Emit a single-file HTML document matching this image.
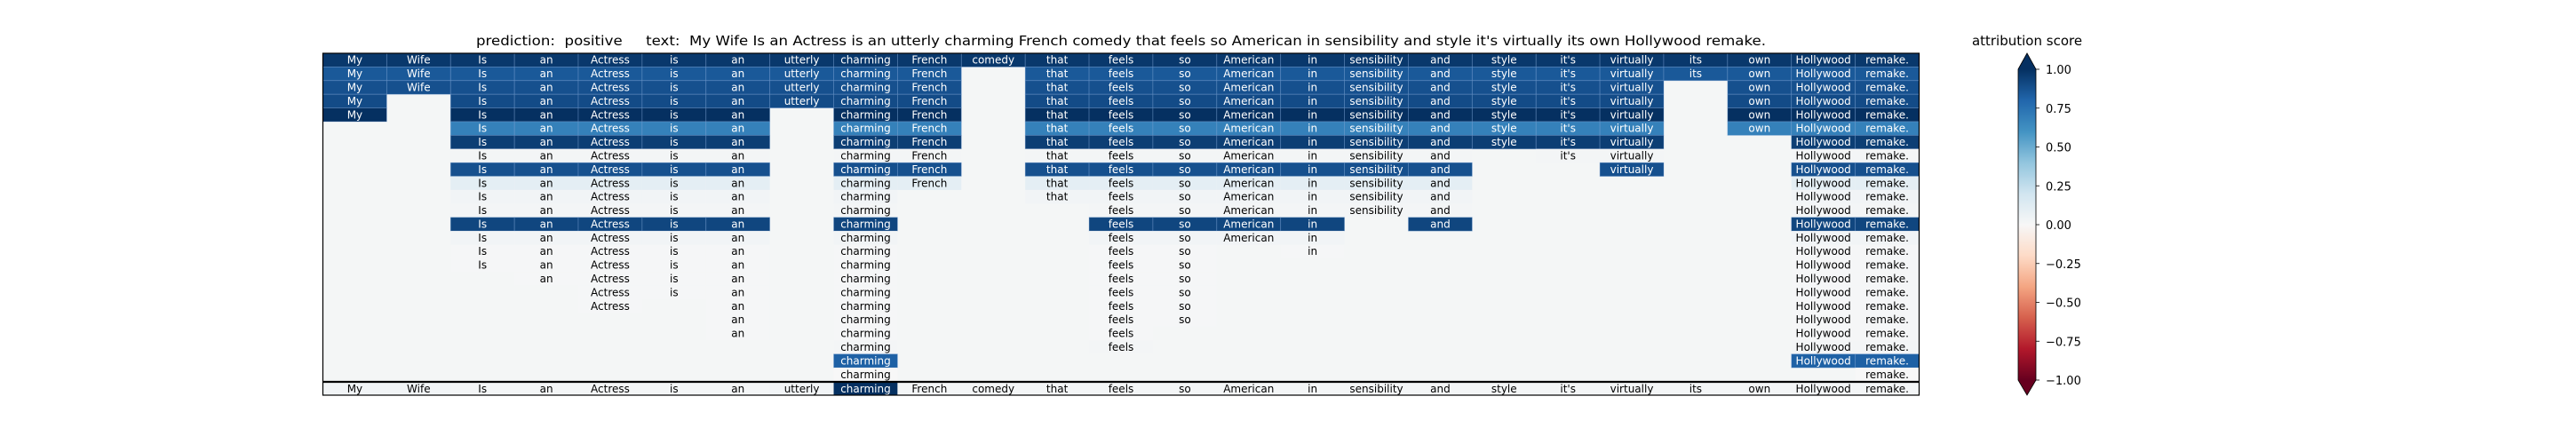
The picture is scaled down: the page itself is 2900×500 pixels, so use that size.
<!DOCTYPE html>
<html><head><meta charset="utf-8"><style>
html,body{margin:0;padding:0;background:#fff;}
svg{display:block;font-family:"DejaVu Sans","Liberation Sans",sans-serif;}
</style></head><body>
<svg id="chart" width="2900" height="500" viewBox="0 0 2900 500" xmlns="http://www.w3.org/2000/svg">
<text x="1262" y="51" font-size="15" text-anchor="middle" textLength="1452" lengthAdjust="spacingAndGlyphs" xml:space="preserve" style="white-space:pre">prediction:  positive     text:  My Wife Is an Actress is an utterly charming French comedy that feels so American in sensibility and style it's virtually its own Hollywood remake.</text>
<text x="2282" y="51" font-size="15" text-anchor="middle">attribution score</text>
<g id="cells"></g>
<g id="cbar"></g>
</svg>
<script>
const tokens = ["My","Wife","Is","an","Actress","is","an","utterly","charming","French","comedy","that","feels","so","American","in","sensibility","and","style","it's","virtually","its","own","Hollywood","remake."];
const rowValues = [0.97,0.85,0.88,0.9,1.0,0.68,0.95,0.02,0.88,0.1,0.03,0.02,0.92,0.03,0.01,0.01,0.01,0.01,0.01,0.01,0.01,0.02,0.82,0.0];
const rowPresence = [
 [0,1,2,3,4,5,6,7,8,9,10,11,12,13,14,15,16,17,18,19,20,21,22,23,24],
 [0,1,2,3,4,5,6,7,8,9,11,12,13,14,15,16,17,18,19,20,21,22,23,24],
 [0,1,2,3,4,5,6,7,8,9,11,12,13,14,15,16,17,18,19,20,22,23,24],
 [0,2,3,4,5,6,7,8,9,11,12,13,14,15,16,17,18,19,20,22,23,24],
 [0,2,3,4,5,6,8,9,11,12,13,14,15,16,17,18,19,20,22,23,24],
 [2,3,4,5,6,8,9,11,12,13,14,15,16,17,18,19,20,22,23,24],
 [2,3,4,5,6,8,9,11,12,13,14,15,16,17,18,19,20,23,24],
 [2,3,4,5,6,8,9,11,12,13,14,15,16,17,19,20,23,24],
 [2,3,4,5,6,8,9,11,12,13,14,15,16,17,20,23,24],
 [2,3,4,5,6,8,9,11,12,13,14,15,16,17,23,24],
 [2,3,4,5,6,8,11,12,13,14,15,16,17,23,24],
 [2,3,4,5,6,8,12,13,14,15,16,17,23,24],
 [2,3,4,5,6,8,12,13,14,15,17,23,24],
 [2,3,4,5,6,8,12,13,14,15,23,24],
 [2,3,4,5,6,8,12,13,15,23,24],
 [2,3,4,5,6,8,12,13,23,24],
 [3,4,5,6,8,12,13,23,24],
 [4,5,6,8,12,13,23,24],
 [4,6,8,12,13,23,24],
 [6,8,12,13,23,24],
 [6,8,12,23,24],
 [8,12,23,24],
 [8,23,24],
 [8,24]
];
const bottomValues = [0.03,0.03,0.02,0.02,0.02,0.02,0.02,0.03,1.0,0.02,0.02,0.02,0.02,0.02,0.02,0.02,0.02,0.02,0.02,0.02,0.02,0.02,0.02,0.02,0.02];
const cbarTicks = [1.0,0.75,0.5,0.25,0.0,-0.25,-0.5,-0.75,-1.0];
const cbarTickLabels = ["1.00","0.75","0.50","0.25","0.00","\u22120.25","\u22120.50","\u22120.75","\u22121.00"];

const NS="http://www.w3.org/2000/svg";
const X0=363.5, X1=2160.5, Y0=60, Y1=429.5, BY0=430.5, BY1=445;
const colW=(X1-X0)/tokens.length, rowH=(Y1-Y0)/rowValues.length;
const xPos=c=>X0+c*colW;
const yPos=r=>Y0+r*rowH;
const stops=[[-1,[103,0,31]],[-0.8,[178,24,43]],[-0.6,[214,96,77]],[-0.4,[244,165,130]],[-0.2,[253,219,199]],[0,[247,247,247]],[0.2,[209,229,240]],[0.4,[146,197,222]],[0.6,[67,147,195]],[0.8,[33,102,172]],[1,[5,48,97]]];
function cmap(v){v=Math.max(-1,Math.min(1,v));for(let i=0;i<stops.length-1;i++){const a=stops[i],b=stops[i+1];if(v<=b[0]){const t=(v-a[0])/(b[0]-a[0]);const c=a[1].map((x,k)=>Math.round(x+(b[1][k]-x)*t));return `rgb(${c[0]},${c[1]},${c[2]})`;}}return "rgb(5,48,97)";}
function mk(tag,attrs,parent){const e=document.createElementNS(NS,tag);for(const k in attrs)e.setAttribute(k,attrs[k]);parent.appendChild(e);return e;}
const g=document.getElementById('cells');
const bg=mk('rect',{x:X0,y:Y0,width:X1-X0,height:Y1-Y0,fill:'#f4f6f6'},g);


rowValues.forEach((v,r)=>{
  rowPresence[r].forEach(c=>{
    const dark=v>0.5;
    const rc=mk('rect',{x:xPos(c),y:yPos(r),width:colW,height:rowH,fill:cmap(v),stroke:dark?'rgba(120,160,210,0.45)':'none','stroke-width':0.8},g);
    
    
    const t=mk('text',{x:xPos(c)+colW/2,y:yPos(r)+rowH/2+4,'font-size':12,'text-anchor':'middle',fill:dark?'#fff':'#000'},g);
    t.textContent=tokens[c];
    
    
  });
});
const bb=mk('rect',{x:X0,y:BY0,width:X1-X0,height:BY1-BY0,fill:'#f4f6f6'},g);


bottomValues.forEach((v,c)=>{
  const dark=v>0.5;
  const rc=mk('rect',{x:xPos(c),y:BY0,width:colW,height:BY1-BY0,fill:cmap(v)},g);
  
  
  const t=mk('text',{x:xPos(c)+colW/2,y:BY0+11.5,'font-size':12,'text-anchor':'middle',fill:dark?'#fff':'#000'},g);
  t.textContent=tokens[c];
  
  
});
const bor=mk('rect',{x:X0,y:Y0,width:X1-X0,height:BY1-Y0,fill:'none',stroke:'#000','stroke-width':1.2},g);


const sep=mk('line',{x1:X0,x2:X1,y1:430,y2:430,stroke:'#000','stroke-width':2.2},g);



// colorbar
const cb=document.getElementById('cbar');
const CX0=2272,CX1=2292,CT=78,CB=428,tipT=60,tipB=445;
const cy=v=>CB-(v+1)/2*(CB-CT);
const defs=mk('defs',{},cb);
const lg=mk('linearGradient',{id:'cg',x1:0,y1:0,x2:0,y2:1},defs);
for(let i=stops.length-1;i>=0;i--){mk('stop',{offset:((1-stops[i][0])/2*100)+'%','stop-color':cmap(stops[i][0])},lg);}
const cr=mk('rect',{x:CX0,y:CT,width:CX1-CX0,height:CB-CT,fill:'url(#cg)'},cb);


const ta=mk('polygon',{points:`${CX0},${CT} ${(CX0+CX1)/2},${tipT} ${CX1},${CT}`,fill:cmap(1)},cb);


const ba=mk('polygon',{points:`${CX0},${CB} ${(CX0+CX1)/2},${tipB} ${CX1},${CB}`,fill:cmap(-1)},cb);


const co=mk('polygon',{points:`${CX0},${CT} ${(CX0+CX1)/2},${tipT} ${CX1},${CT} ${CX1},${CB} ${(CX0+CX1)/2},${tipB} ${CX0},${CB}`,fill:'none',stroke:'#000','stroke-width':0.8},cb);


cbarTicks.forEach((v,i)=>{
  const y=cy(v);
  const tk=mk('line',{x1:CX1,x2:CX1+4,y1:y,y2:y,stroke:'#000','stroke-width':0.8},cb);
  
  
  const tl=mk('text',{x:CX1+11,y:y+5,'font-size':13,fill:'#000'},cb);
  tl.textContent=cbarTickLabels[i];
  
  
});
</script>
</body></html>
